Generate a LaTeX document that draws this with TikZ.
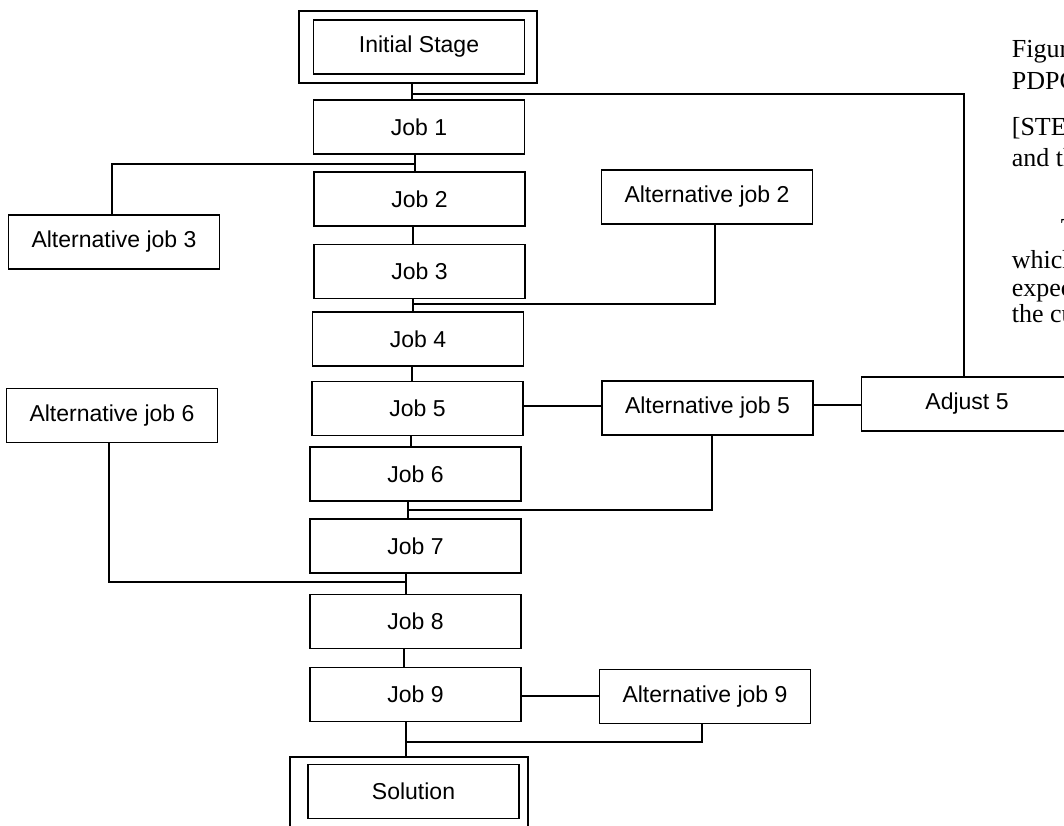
\documentclass[tikz,border=0pt]{standalone}
\usepackage{fontspec}
\setmainfont{Liberation Sans}
\newfontfamily\pageserif{Liberation Serif}
\usetikzlibrary{calc}
\begin{document}
\begin{tikzpicture}[x=1pt,y=-1pt,line width=1.7pt,
  box/.style={draw,rectangle,minimum width=211pt,minimum height=54pt,inner sep=0pt,font=\fontsize{23}{27}\selectfont},
  framebox/.style={draw,rectangle,minimum width=238pt,minimum height=72pt,inner sep=0pt},
  pagetext/.style={anchor=base west,inner sep=0pt,font=\pageserif\fontsize{26}{30}\selectfont}]
\useasboundingbox (0,0) rectangle (1064,825);
\begin{scope}
\clip (0,0) rectangle (1064,825);
% frames
\node[framebox] (initO) at (418,47) {};
\node[box] (init) at (419,47) {Initial Stage};
\node[framebox] (solO) at (409,793) {};
\node[box] (sol) at (413.5,791.5) {Solution};
% main column
\node[box] (j1) at (419,127) {Job 1};
\node[box] (j2) at (419.5,199) {Job 2};
\node[box] (j3) at (419.5,271.5) {Job 3};
\node[box] (j4) at (418,339) {Job 4};
\node[box] (j5) at (417.5,408.5) {Job 5};
\node[box] (j6) at (415.5,474) {Job 6};
\node[box] (j7) at (415.5,546) {Job 7};
\node[box] (j8) at (415.5,621.5) {Job 8};
\node[box] (j9) at (415.5,694.5) {Job 9};
% alternatives
\node[box] (a3) at (114,242) {Alternative job 3};
\node[box] (a2) at (707,197) {Alternative job 2};
\node[box] (a6) at (112,415.5) {Alternative job 6};
\node[box] (a5) at (707.5,408) {Alternative job 5};
\node[box] (adj) at (967,404) {Adjust 5};
\node[box] (a9) at (705,696.5) {Alternative job 9};
% junction coordinates
\coordinate (c0) at (412,94);
\coordinate (c1) at (415,164);
\coordinate (c2) at (413,0);
\coordinate (c3) at (413,304);
\coordinate (c4) at (412,0);
\coordinate (c5) at (411,0);
\coordinate (c6) at (408,510);
\coordinate (c7) at (406,582);
\coordinate (c8) at (404,0);
\coordinate (c9) at (406,742);
% connectors
\draw (initO.south -| c0) -- (j1.north -| c0);
\draw (c0) -| ([xshift=-3pt]adj.north);
\draw (j1.south -| c1) -- (j2.north -| c1);
\draw (c1) -| ([xshift=-2pt]a3.south |- a3.north);
\draw (j2.south -| c2) -- (j3.north -| c2);
\draw (j3.south -| c3) -- (j4.north -| c3);
\draw (c3) -| ([xshift=8pt]a2.south);
\draw (j4.south -| c4) -- (j5.north -| c4);
\draw ([yshift=2.5pt]j5.east) -- ([yshift=2.5pt]j5.east -| a5.west);
\draw ([yshift=3pt]a5.east) -- ([yshift=3pt]a5.east -| adj.west);
\draw (j5.south -| c5) -- (j6.north -| c5);
\draw (j6.south -| c6) -- (j7.north -| c6);
\draw (c6) -| ([xshift=4.5pt]a5.south);
\draw (j7.south -| c7) -- (j8.north -| c7);
\draw (c7) -| ([xshift=-3pt]a6.south);
\draw (j8.south -| c8) -- (j9.north -| c8);
\draw ([yshift=-1.5pt]j9.east) -- ([yshift=-1.5pt]j9.east -| a9.west);
\draw (j9.south -| c9) -- (solO.north -| c9);
\draw (c9) -| ([xshift=-3pt]a9.south);
% page text cut by the right edge
\node[pagetext] (t1) at (1011,57) {Figure};
\node[pagetext] (t2) at (1011,89) {PDPC};
\node[pagetext] (t3) at (1011,135) {[STEP};
\node[pagetext] (t4) at (1011,166) {and th};
\node[pagetext] (t5) at (1060,236) {T};
\node[pagetext] (t6) at (1011,268) {which};
\node[pagetext] (t7) at (1011,296) {expect};
\node[pagetext] (t8) at (1011,322) {the cu};
\end{scope}
\end{tikzpicture}
\end{document}
